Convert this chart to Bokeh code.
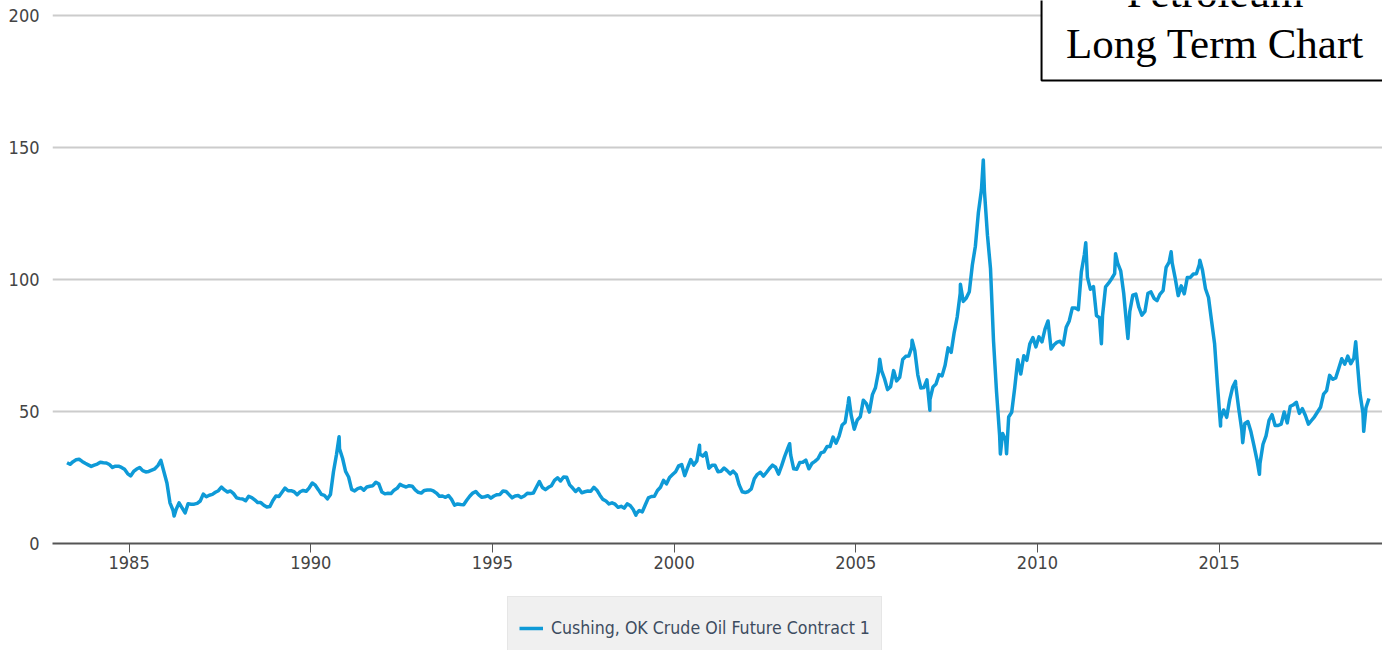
from bokeh.plotting import figure
from bokeh.layouts import column
from bokeh.models import (Range1d, FixedTicker, NumeralTickFormatter, Legend, LegendItem,
                          Label, ColumnDataSource)
from bokeh.embed import file_html
from bokeh.resources import INLINE

# ---------------- data ----------------
start_year = 1983
start_month = 4
# monthly levels of the front-month contract, Apr 1983 .. Feb 2019 (USD/bbl)
monthly_price = [
    30.6, 30.0, 31.0, 31.7, 31.9, 31.1, 30.4, 29.8, 29.2,
    29.7, 30.1, 30.8, 30.6, 30.5, 29.9, 28.8, 29.3, 29.3, 28.8, 28.1, 26.5,
    25.6, 27.3, 28.2, 28.8, 27.6, 27.1, 27.3, 27.8, 28.3, 29.5, 31.5, 27.2,
    22.9, 15.4, 12.6, 12.8, 15.4, 13.5, 11.6, 15.1, 14.9, 14.9, 15.2, 16.1,
    18.7, 17.7, 18.3, 18.6, 19.4, 20.0, 21.4, 20.3, 19.5, 19.9, 18.9, 17.3,
    17.0, 16.9, 16.2, 17.9, 17.4, 16.5, 15.5, 15.5, 14.5, 13.8, 14.0, 16.3,
    18.0, 17.8, 19.4, 21.0, 20.0, 20.0, 19.6, 18.5, 19.6, 20.1, 19.8, 21.1,
    22.9, 22.1, 20.4, 18.6, 18.2, 16.9, 18.6, 27.2, 33.7, 35.9, 32.3, 27.3,
    25.2, 20.5, 19.9, 20.8, 21.2, 20.2, 21.4, 21.7, 21.9, 23.2, 22.5, 19.5,
    18.8, 19.0, 18.9, 20.2, 20.9, 22.4, 21.8, 21.4, 21.9, 21.7, 20.3, 19.4,
    19.1, 20.1, 20.3, 20.3, 19.9, 19.1, 17.9, 18.0, 17.5, 18.2, 16.7, 14.5,
    15.0, 14.8, 14.7, 16.4, 17.9, 19.1, 19.7, 18.4, 17.5, 17.7, 18.1, 17.2,
    18.0, 18.5, 18.6, 19.9, 19.7, 18.5, 17.3, 18.0, 18.2, 17.4, 18.0, 19.0,
    18.9, 19.1, 21.3, 23.5, 21.2, 20.4, 21.3, 21.9, 23.9, 24.9, 23.7, 25.2,
    25.1, 22.2, 21.0, 19.7, 20.8, 19.2, 19.6, 19.9, 19.8, 21.3, 20.2, 18.3,
    16.7, 16.1, 15.0, 15.4, 14.9, 13.7, 14.1, 13.4, 15.0, 14.4, 12.9, 11.3,
    12.5, 12.0, 14.7, 17.3, 17.8, 17.9, 20.1, 21.3, 23.9, 22.6, 25.0, 26.1,
    27.2, 29.4, 29.9, 25.7, 28.8, 31.8, 29.7, 31.3, 33.9, 33.1, 34.4, 28.5,
    29.6, 29.6, 27.2, 27.4, 28.6, 27.6, 26.4, 27.4, 26.2, 22.2, 19.6, 19.3,
    19.7, 20.7, 24.5, 26.2, 27.0, 25.5, 26.9, 28.4, 29.7, 28.9, 26.3, 29.4,
    32.9, 35.9, 33.6, 28.3, 28.1, 30.7, 30.8, 31.6, 28.3, 30.3, 31.1, 32.1,
    34.3, 34.7, 36.7, 36.7, 40.3, 38.0, 40.7, 44.9, 45.9, 53.1, 48.5, 43.3,
    46.8, 48.0, 54.3, 53.0, 49.8, 56.4, 59.0, 65.0, 65.6, 62.4, 58.3, 59.4,
    65.5, 61.6, 62.9, 69.7, 70.9, 71.0, 74.4, 73.0, 63.8, 58.9, 59.1, 62.0,
    54.5, 59.3, 60.4, 64.0, 63.5, 67.5, 74.1, 72.4, 79.9, 85.8, 94.8, 91.7,
    93.0, 95.4, 105.5, 112.6, 125.4, 133.9, 133.4, 116.7, 104.1, 76.6, 57.3, 41.1,
    41.7, 39.1, 47.9, 49.7, 59.0, 69.6, 64.2, 71.1, 69.4, 75.7, 78.0, 74.5,
    78.3, 76.4, 81.2, 84.3, 73.7, 75.3, 76.3, 76.6, 75.2, 81.9, 84.3, 89.2,
    89.2, 88.6, 102.9, 109.5, 100.9, 96.3, 97.3, 86.3, 85.5, 86.3, 97.2, 98.6,
    100.3, 102.2, 106.2, 103.3, 94.7, 82.3, 87.9, 94.1, 94.5, 89.5, 86.5, 87.9,
    94.8, 95.3, 92.9, 92.0, 94.5, 95.8, 104.6, 106.6, 106.3, 100.5, 93.9, 97.6,
    94.6, 100.8, 100.8, 102.1, 102.2, 105.8, 103.6, 96.5, 93.2, 84.4, 75.8, 59.3,
    47.2, 50.6, 47.8, 54.5, 59.3, 59.8, 50.9, 42.9, 45.5, 46.2, 42.4, 37.2,
    31.7, 30.3, 37.6, 40.8, 46.7, 48.8, 44.7, 44.7, 45.2, 49.8, 45.7, 52.0,
    52.5, 53.5, 49.3, 51.1, 48.5, 45.2, 46.6, 48.0, 49.8, 51.6, 56.6, 57.9,
    63.7, 62.2, 62.7, 66.3, 70.0, 67.9, 71.0, 68.1, 70.2, 70.8, 57.0, 49.5,
    51.4, 54.9,
]
# intra-month highs / lows visible in the picture (decimal year, price)
spike_time = [1986.24, 1990.78, 1998.95, 2000.70, 2003.18, 2004.81, 2005.66,
              2006.55, 2007.04, 2007.88, 2008.51, 2008.98, 2009.15, 2011.33,
              2011.76, 2012.15, 2012.49, 2013.68, 2014.47, 2015.04, 2015.45,
              2015.65, 2016.11, 2018.76, 2018.98]
spike_price = [10.4, 40.4, 10.7, 37.2, 37.8, 55.2, 69.8,
               77.0, 50.5, 98.2, 145.3, 33.9, 34.0, 113.9,
               75.7, 109.8, 77.7, 110.5, 107.3, 44.5, 61.4,
               38.2, 26.2, 76.4, 42.5]

x_ticks = [1985, 1990, 1995, 2000, 2005, 2010, 2015]
y_ticks = [0, 50, 100, 150, 200]
series_name = "Cushing, OK Crude Oil Future Contract 1"
title_lines = ["Petroleum", "Long Term Chart"]

# ---------------- build series ----------------
month_time = [start_year + (start_month - 1 + i + 0.5) / 12.0 for i in range(len(monthly_price))]
pairs = sorted(list(zip(month_time, monthly_price)) + list(zip(spike_time, spike_price)))
src = ColumnDataSource(dict(t=[a for a, _ in pairs], v=[b for _, b in pairs]))

NARROW = "'Liberation Sans Narrow', 'DejaVu Sans Condensed', 'Roboto Condensed', Roboto, sans-serif"
LINE_COLOR = "#0e9ad7"
LINE_W = 3.5

X0, X1 = 1982.892, 2019.497
Y0, Y1 = 0, 205.7

# ---------------- main chart ----------------
p = figure(width=1382, height=585, output_backend="svg", toolbar_location=None,
           x_range=Range1d(X0, X1), y_range=Range1d(Y0, Y1),
           min_border_left=52, min_border_right=0, min_border_top=0, min_border_bottom=42)
p.outline_line_color = None
p.background_fill_color = "white"
p.border_fill_color = "white"

r = p.line("t", "v", source=src, line_color=LINE_COLOR, line_width=LINE_W, line_join="round")

p.xgrid.visible = False
p.ygrid.grid_line_color = "#cccccc"
p.ygrid.grid_line_width = 2
p.ygrid.ticker = FixedTicker(ticks=y_ticks)

xa = p.xaxis[0]
xa.ticker = FixedTicker(ticks=x_ticks)
xa.formatter = NumeralTickFormatter(format="0")
xa.axis_line_color = "#555555"
xa.axis_line_width = 2
xa.major_tick_line_color = "#555555"
xa.major_tick_out = 9
xa.major_tick_in = 0
xa.minor_tick_line_color = None
xa.major_label_standoff = 3
xa.major_label_text_font = NARROW
xa.major_label_text_font_size = "18px"
xa.major_label_text_color = "#444444"

ya = p.yaxis[0]
ya.ticker = FixedTicker(ticks=y_ticks)
ya.axis_line_color = None
ya.major_tick_line_color = None
ya.minor_tick_line_color = None
ya.major_label_standoff = 7
ya.major_label_text_font = NARROW
ya.major_label_text_font_size = "18px"
ya.major_label_text_color = "#444444"

# title box, top right (extends past the page edges)
p.quad(left=[2010.113], right=[2025.0], bottom=[175.4], top=[260.0],
       fill_color="white", line_color="black", line_width=2)
p.add_layout(Label(x=2014.888, y=208.6, text=title_lines[0], text_align="center",
                   text_baseline="alphabetic", text_font="Liberation Serif",
                   text_font_size="43px", text_color="black", level="overlay"))
p.add_layout(Label(x=2014.888, y=189.4, text=title_lines[1], text_align="center",
                   text_baseline="alphabetic", text_font="Liberation Serif",
                   text_font_size="43px", text_color="black", level="overlay"))

# ---------------- legend strip under the chart ----------------
q = figure(width=1382, height=65, output_backend="svg", toolbar_location=None,
           x_range=Range1d(0, 1), y_range=Range1d(0, 1),
           x_axis_location=None, y_axis_location=None,
           min_border_left=0, min_border_right=0, min_border_top=0, min_border_bottom=0)
q.outline_line_color = None
q.grid.visible = False
q.border_fill_color = "white"
q.background_fill_color = "white"
# same series drawn in this strip (falls outside its ranges); used only as the legend swatch
sample = q.line("t", "v", source=src, line_color=LINE_COLOR, line_width=LINE_W)

legend = Legend(items=[LegendItem(label=series_name, renderers=[sample])],
                location=(455, -10), orientation="horizontal",
                padding=11, margin=0, spacing=0,
                glyph_width=24, glyph_height=40, label_height=40, label_standoff=8,
                label_text_font=NARROW, label_text_font_size="17.6px",
                label_text_color="#3d4c5f",
                background_fill_color="#f0f0f0", background_fill_alpha=1,
                border_line_color="#dcdcdc", border_line_width=1)
q.add_layout(legend, "center")

layout = column(p, q, spacing=0)
open("out.html", "w").write(file_html(layout, INLINE))
